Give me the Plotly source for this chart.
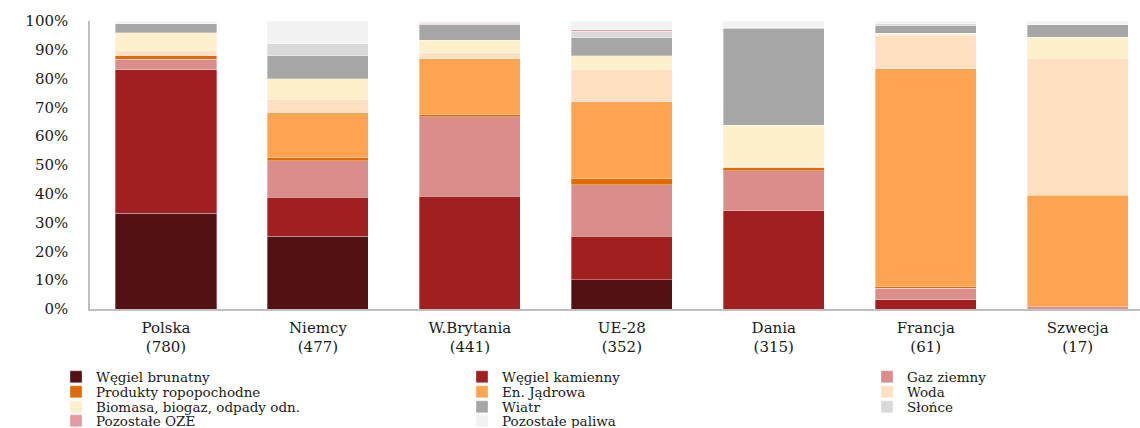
import plotly.graph_objects as go

categories = ["Polska<br>(780)", "Niemcy<br>(477)", "W.Brytania<br>(441)", "UE-28<br>(352)",
              "Dania<br>(315)", "Francja<br>(61)", "Szwecja<br>(17)"]

series_names = ["Węgiel brunatny", "Węgiel kamienny", "Gaz ziemny", "Produkty ropopochodne",
                "En. Jądrowa", "Woda", "Biomasa, biogaz, odpady odn.", "Wiatr", "Słońce",
                "Pozostałe OZE", "Pozostałe paliwa"]

wegiel_brunatny = [33.3, 25.2, 0.0, 10.2, 0.0, 0.0, 0.0]
wegiel_kamienny = [49.7, 13.6, 39.1, 15.0, 34.2, 3.2, 0.3]
gaz_ziemny = [3.8, 12.6, 27.7, 17.9, 13.8, 4.0, 0.5]
produkty_ropopochodne = [1.3, 1.1, 0.7, 2.1, 1.3, 0.6, 0.0]
en_jadrowa = [0.0, 15.7, 19.4, 26.7, 0.0, 75.6, 38.7]
woda = [1.5, 4.4, 2.3, 11.1, 0.1, 11.6, 47.4]
biomasa = [6.3, 7.4, 4.2, 5.0, 14.4, 0.7, 7.5]
wiatr = [3.1, 8.0, 5.3, 6.2, 33.6, 2.7, 4.3]
slonce = [0.1, 4.3, 0.4, 2.2, 0.2, 0.6, 0.1]
pozostale_oze = [0.0, 0.0, 0.2, 0.6, 0.0, 0.0, 0.0]
pozostale_paliwa = [0.9, 7.7, 0.7, 3.0, 2.4, 1.0, 1.2]

series_values = [wegiel_brunatny, wegiel_kamienny, gaz_ziemny, produkty_ropopochodne,
                 en_jadrowa, woda, biomasa, wiatr, slonce, pozostale_oze, pozostale_paliwa]

y_tickvals = [0, 10, 20, 30, 40, 50, 60, 70, 80, 90, 100]
y_ticktext = ["0%", "10%", "20%", "30%", "40%", "50%", "60%", "70%", "80%", "90%", "100%"]

colors = ["#541113", "#A11F21", "#D98E8C", "#DE6B05", "#FFA451", "#FFE0C3",
          "#FFF0CD", "#A6A6A6", "#D9D9D9", "#E59AA2", "#F2F2F2"]

# legend grid: (column, row) for each series
legend_cells = [(0, 0), (1, 0), (2, 0), (0, 1), (1, 1), (2, 1), (0, 2), (1, 2), (2, 2), (0, 3), (1, 3)]

W, H = 1140, 428
ML, MR, MT, MB = 90, 0, 21, 119
PW, PH = W - ML - MR, H - MT - MB
col_px = [56, 462, 867]
row_px = [377, 392, 407, 421]

FONT = "DejaVu Serif"
TXT = "#1a1a1a"

fig = go.Figure()
layout_legends = {}
for i, (name, vals, col) in enumerate(zip(series_names, series_values, colors)):
    lname = "legend" if i == 0 else f"legend{i + 1}"
    fig.add_trace(go.Bar(
        x=categories, y=vals, name=name, legend=lname,
        marker=dict(color=col, line=dict(color="rgba(255,255,255,0.55)", width=0.6)),
    ))
    c, r = legend_cells[i]
    layout_legends[lname] = dict(
        x=(col_px[c] - ML) / PW, y=(MT + PH - row_px[r]) / PH,
        xanchor="left", yanchor="middle", orientation="v",
        bgcolor="rgba(0,0,0,0)", borderwidth=0,
        font=dict(family=FONT, size=13.5, color=TXT),
        itemclick=False, itemdoubleclick=False,
    )

fig.update_layout(
    template="none",
    barmode="stack",
    bargap=0.335,
    width=W, height=H,
    margin=dict(l=ML, r=MR, t=MT, b=MB, pad=0, autoexpand=False),
    paper_bgcolor="white", plot_bgcolor="white",
    showlegend=True,
    **layout_legends,
)

fig.update_xaxes(
    range=[-0.5, 6.41], showgrid=False, zeroline=False, automargin=False,
    showline=True, linecolor="#BFBFBF", linewidth=1.5,
    ticks="", tickfont=dict(family=FONT, size=15, color=TXT),
    ticklabelstandoff=4,
)
fig.update_yaxes(
    range=[0, 100], tickvals=y_tickvals, ticktext=y_ticktext,
    showgrid=False, zeroline=False, automargin=False,
    showline=True, linecolor="#BFBFBF", linewidth=1.5,
    ticks="", tickfont=dict(family=FONT, size=15, color=TXT),
    ticklabelstandoff=17,
)

fig.write_html(
    "out.html",
    config={"displayModeBar": False},
    post_script="document.body.style.margin='0';document.body.style.padding='0';",
)
